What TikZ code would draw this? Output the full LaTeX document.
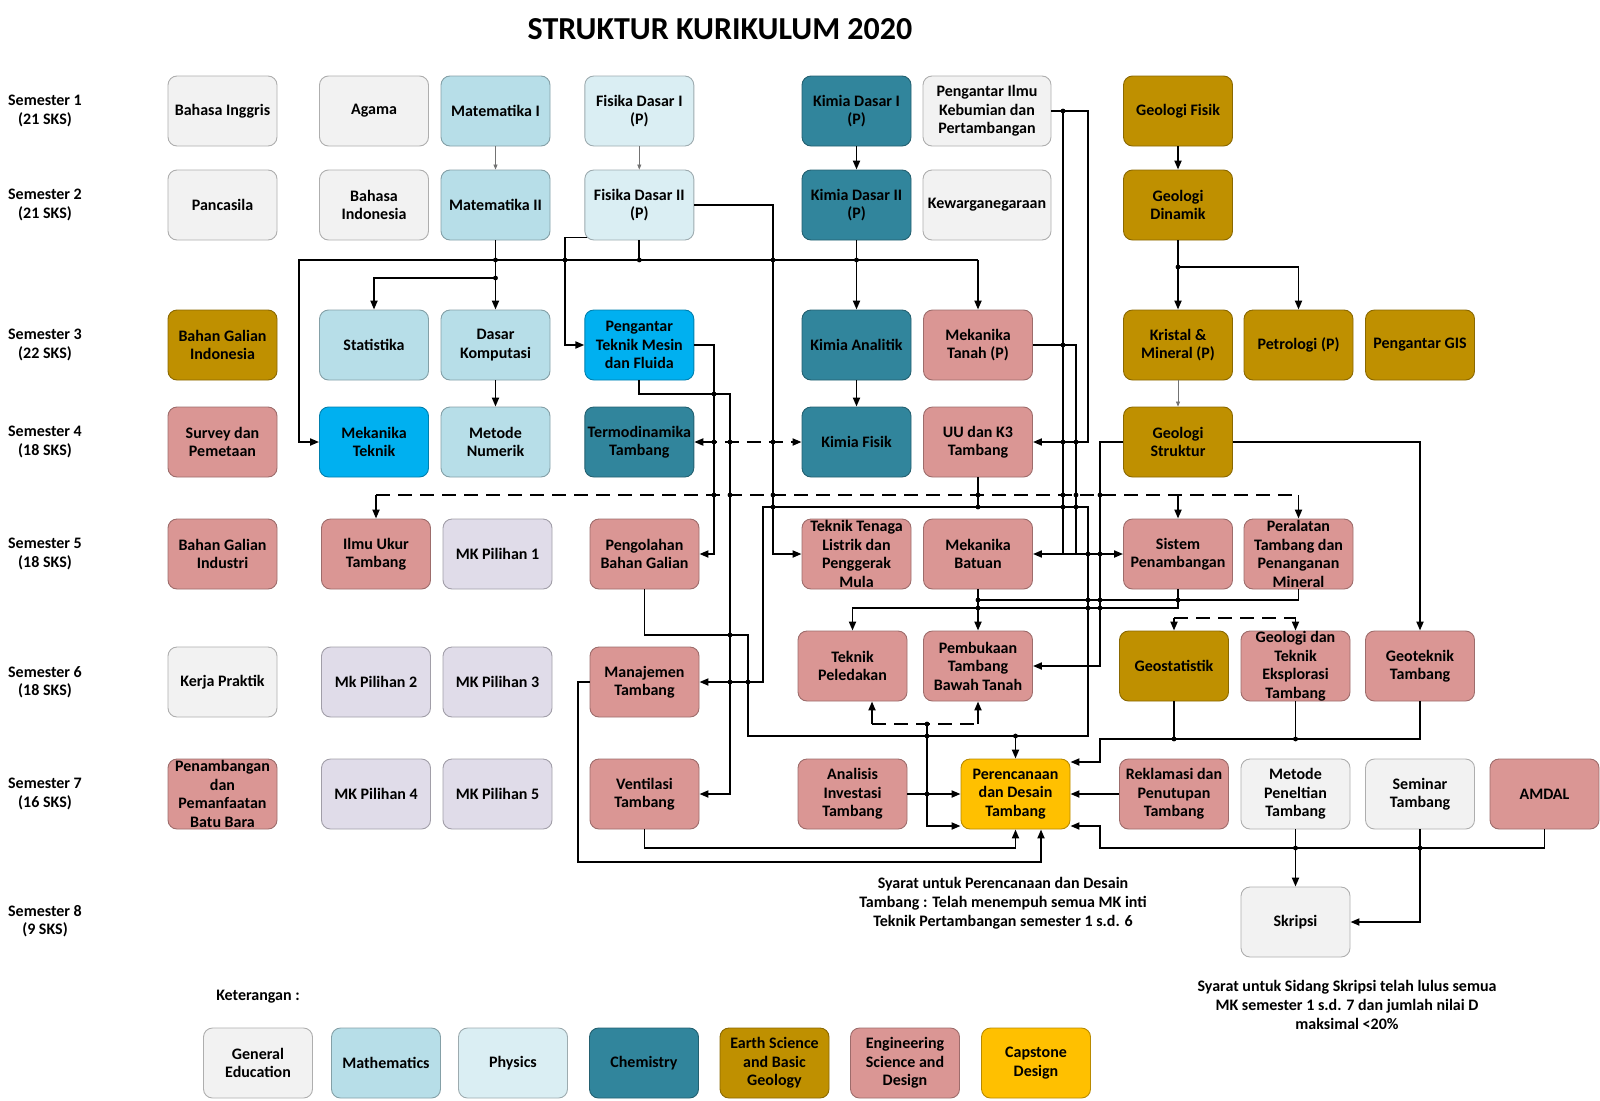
\documentclass[tikz,border=0pt]{standalone}
\usepackage{fontspec}
\setmainfont{Carlito}
\usetikzlibrary{arrows.meta}

\definecolor{gened}{HTML}{F2F2F2}
\definecolor{maths}{HTML}{B7DEE8}
\definecolor{physics}{HTML}{DAEEF3}
\definecolor{chem}{HTML}{31859C}
\definecolor{earth}{HTML}{BF9000}
\definecolor{engsci}{HTML}{DA9694}
\definecolor{capstone}{HTML}{FFC000}
\definecolor{mech}{HTML}{00B0F0}
\definecolor{elective}{HTML}{E0DCE9}

\newcommand{\coursefont}{\fontsize{16}{18.5}\selectfont\bfseries}
\newcommand{\notefont}{\fontsize{16}{19.2}\selectfont\bfseries}

\tikzset{
    course/.style={draw=#1!72!black, fill=#1, line width=0.9pt, rounded corners=9pt,
        minimum width=109pt, minimum height=70pt, inner xsep=1pt, inner ysep=0pt,
        align=center, font=\coursefont},
    semlabel/.style={align=center, font=\coursefont},
    wire/.style={line width=1.9pt},
    wirearr/.style={wire, -{Triangle[length=9pt,width=7pt]}},
    wiretwo/.style={wire, {Triangle[length=9pt,width=7pt]}-{Triangle[length=9pt,width=7pt]}},
    wiredash/.style={wire, dash pattern=on 14pt off 8pt},
    thinarr/.style={line width=0.7pt, black!55, -{Triangle[length=5pt,width=4pt]}},
}

\begin{document}
\begin{tikzpicture}[x=1pt,y=-1pt]
    \useasboundingbox (0,0) rectangle (1600,1100);

    \node[font=\fontsize{32}{38}\selectfont\bfseries] (title) at (720,29) {STRUKTUR KURIKULUM 2020};

    \foreach \n/\y/\k in {1/111/21,2/205/21,3/345/22,4/442/18,5/554/18,6/682/18,7/794/16,8/921/9}
        \node[semlabel] (sem\n) at (45,\y) {Semester \n\\(\k{} SKS)};

    % semester 1
    \node[course=gened] (bing) at (222.5,111) {Bahasa Inggris};
    \node[course=gened] (agama) at (374,111) {Agama};
    \node[course=maths] (mat1) at (495.5,111) {Matematika I};
    \node[course=physics] (fis1) at (639.3,111) {Fisika Dasar I\\(P)};
    \node[course=chem] (kim1) at (856.5,111) {Kimia Dasar I\\(P)};
    \node[course=gened, minimum width=128pt] (pik) at (987,111) {Pengantar Ilmu\\Kebumian dan\\Pertambangan};
    \node[course=earth] (gfis) at (1178,111) {Geologi Fisik};
    % semester 2
    \node[course=gened] (pancasila) at (222.5,205) {Pancasila};
    \node[course=gened] (bindo) at (374,205) {Bahasa\\Indonesia};
    \node[course=maths] (mat2) at (495.5,205) {Matematika II};
    \node[course=physics] (fis2) at (639.3,205) {Fisika Dasar II\\(P)};
    \node[course=chem] (kim2) at (856.5,205) {Kimia Dasar II\\(P)};
    \node[course=gened, minimum width=128pt] (kwn) at (987,205) {Kewarganegaraan};
    \node[course=earth] (gdin) at (1178,205) {Geologi\\Dinamik};
    % semester 3
    \node[course=earth] (bgi) at (222.5,345) {Bahan Galian\\Indonesia};
    \node[course=maths] (stat) at (374,345) {Statistika};
    \node[course=maths] (dkom) at (495.5,345) {Dasar\\Komputasi};
    \node[course=mech] (ptm) at (639.3,345) {Pengantar\\Teknik Mesin\\dan Fluida};
    \node[course=chem] (kana) at (856.5,345) {Kimia Analitik};
    \node[course=engsci] (mtanah) at (978,345) {Mekanika\\Tanah (P)};
    \node[course=earth] (kristal) at (1178,345) {Kristal \&\\Mineral (P)};
    \node[course=earth] (petro) at (1298.5,345) {Petrologi (P)};
    \node[course=earth] (gis) at (1420,345) {Pengantar GIS};
    % semester 4
    \node[course=engsci] (survey) at (222.5,442) {Survey dan\\Pemetaan};
    \node[course=mech] (mtek) at (374,442) {Mekanika\\Teknik};
    \node[course=maths] (metnum) at (495.5,442) {Metode\\Numerik};
    \node[course=chem] (termo) at (639.3,442) {Termodinamika\\Tambang};
    \node[course=chem] (kfis) at (856.5,442) {Kimia Fisik};
    \node[course=engsci] (uuk3) at (978,442) {UU dan K3\\Tambang};
    \node[course=earth] (gstruk) at (1178,442) {Geologi\\Struktur};
    % semester 5
    \node[course=engsci] (bgind) at (222.5,554) {Bahan Galian\\Industri};
    \node[course=engsci] (iut) at (376,554) {Ilmu Ukur\\Tambang};
    \node[course=elective] (mkp1) at (497.5,554) {MK Pilihan 1};
    \node[course=engsci] (pbg) at (644.5,554) {Pengolahan\\Bahan Galian};
    \node[course=engsci] (ttl) at (856.5,554) {Teknik Tenaga\\Listrik dan\\Penggerak\\Mula};
    \node[course=engsci] (mbatuan) at (978,554) {Mekanika\\Batuan};
    \node[course=engsci] (sispen) at (1178,554) {Sistem\\Penambangan};
    \node[course=engsci] (peralatan) at (1298.5,554) {Peralatan\\Tambang dan\\Penanganan\\Mineral};
    % semester 6
    \node[course=gened] (kp) at (222.5,682) {Kerja Praktik};
    \node[course=elective] (mkp2) at (376,682) {Mk Pilihan 2};
    \node[course=elective] (mkp3) at (497.5,682) {MK Pilihan 3};
    \node[course=engsci] (manaj) at (644.5,682) {Manajemen\\Tambang};
    \node[course=engsci] (tpeled) at (852.5,666) {Teknik\\Peledakan};
    \node[course=engsci] (pembukaan) at (978,666) {Pembukaan\\Tambang\\Bawah Tanah};
    \node[course=earth] (geostat) at (1174,666) {Geostatistik};
    \node[course=engsci] (gtek) at (1295.5,666) {Geologi dan\\Teknik\\Eksplorasi\\Tambang};
    \node[course=engsci] (geotek) at (1420,666) {Geoteknik\\Tambang};
    % semester 7
    \node[course=engsci] (pbb) at (222.5,794) {Penambangan\\dan\\Pemanfaatan\\Batu Bara};
    \node[course=elective] (mkp4) at (376,794) {MK Pilihan 4};
    \node[course=elective] (mkp5) at (497.5,794) {MK Pilihan 5};
    \node[course=engsci] (vent) at (644.5,794) {Ventilasi\\Tambang};
    \node[course=engsci] (analisis) at (852.5,794) {Analisis\\Investasi\\Tambang};
    \node[course=capstone] (pdt) at (1015.5,794) {Perencanaan\\dan Desain\\Tambang};
    \node[course=engsci] (reklamasi) at (1174,794) {Reklamasi dan\\Penutupan\\Tambang};
    \node[course=gened] (metpen) at (1295.5,794) {Metode\\Peneltian\\Tambang};
    \node[course=gened] (seminar) at (1420,794) {Seminar\\Tambang};
    \node[course=engsci] (amdal) at (1544.5,794) {AMDAL};
    % semester 8
    \node[course=gened] (skripsi) at (1295.5,922) {Skripsi};

    \node[font=\notefont, align=center] (pdtnote) at (1003,903)
        {Syarat untuk Perencanaan dan Desain\\Tambang : Telah menempuh semua MK inti\\Teknik Pertambangan semester 1 s.d. 6};
    \node[font=\notefont, align=center] (skrnote) at (1347,1005)
        {Syarat untuk Sidang Skripsi telah lulus semua\\MK semester 1 s.d. 7 dan jumlah nilai D\\maksimal <20\%};

    % legend
    \node[font=\coursefont] (ket) at (258,997) {Keterangan :};
    \node[course=gened] (lgen) at (258,1063) {General\\Education};
    \node[course=maths] (lmat) at (386,1063) {Mathematics};
    \node[course=physics] (lfis) at (513,1063) {Physics};
    \node[course=chem] (lkim) at (644,1063) {Chemistry};
    \node[course=earth] (lgeo) at (774.5,1063) {Earth Science\\and Basic\\Geology};
    \node[course=engsci] (leng) at (905,1063) {Engineering\\Science and\\Design};
    \node[course=capstone] (lcap) at (1036,1063) {Capstone\\Design};

    % bend points
    \coordinate (bus) at (0,260);
    \coordinate (statbus) at (0,278);
    \coordinate (ygd) at (0,267);
    \coordinate (xmtek) at (299,0);
    \coordinate (xptm) at (565,0);
    \coordinate (xttl) at (773,0);
    \coordinate (xpbg) at (714,0);
    \coordinate (xvent) at (730,0);
    \coordinate (yvent) at (0,394);
    \coordinate (xmanaj) at (763,0);
    \coordinate (yuu) at (0,507);
    \coordinate (xpdt) at (1088,0);
    \coordinate (ypdt) at (0,736);
    \coordinate (ypbg) at (0,635);
    \coordinate (xpbg2) at (748,0);
    \coordinate (xpik) at (1063,0);
    \coordinate (xmt) at (1076,0);
    \coordinate (xgs) at (1100,0);
    \coordinate (ydash) at (0,495);
    \coordinate (ysp) at (0,600);
    \coordinate (ypel) at (0,608);
    \coordinate (ygeo) at (0,618);
    \coordinate (ylow) at (0,724);
    \coordinate (xlow) at (872,0);
    \coordinate (xlow2) at (927,0);
    \coordinate (ylow2) at (0,826);
    \coordinate (ygt) at (0,739);
    \coordinate (ygt2) at (0,762);
    \coordinate (ybot) at (0,848);
    \coordinate (xman) at (578,0);
    \coordinate (yman) at (0,862);
    \coordinate (xman2) at (1041,0);
    \coordinate (f2sw) at ([shift={(3pt,3pt)}]fis2.south west);

    % semester 1 -> 2
    \draw[thinarr] (mat1) -- (mat2);
    \draw[thinarr] (fis1) -- (fis2);
    \draw[wirearr] (kim1) -- (kim2);
    \draw[wirearr] (gfis) -- (gdin);

    % bus under semester 2
    \draw[wire] (fis2.south) -- (fis2.south |- bus);
    \draw[wirearr] (mat2) -- (dkom);
    \draw[wirearr] (mat2.south |- statbus) -| (stat.north);
    \draw[wirearr] (kim2) -- (kana);
    \draw[wirearr] (mtanah.north |- bus) -- (mtanah.north);
    \draw[wirearr] (mtanah.north |- bus) -- (xmtek |- bus) |- (mtek.west);
    \draw[wirearr] (f2sw) -- (xptm |- f2sw) |- (ptm.west);
    \draw[wirearr] (fis2.east) -| (xttl |- ttl.west) -- (ttl.west);

    % geology
    \draw[wirearr] (gdin) -- (kristal);
    \draw[wirearr] (gdin.south |- ygd) -| (petro.north);
    \draw[thinarr] (kristal) -- (gstruk);
    \draw[wirearr] (dkom) -- (metnum);
    \draw[wirearr] (kana) -- (kfis);
    \draw[wiretwo, wiredash] (termo) -- (kfis);

    % pengantar teknik mesin
    \draw[wirearr] (ptm.east) -| (xpbg |- pbg.east) -- (pbg.east);
    \draw[wirearr] (ptm.south) -- (ptm.south |- yvent) -| (xvent |- vent.east) -- (vent.east);

    % uu dan k3, pengolahan
    \draw[wirearr] (uuk3.south) -- (uuk3.south |- yuu) -| (xmanaj |- manaj.east) -- (manaj.east);
    \draw[wirearr] (uuk3.south |- yuu) -| (xpdt |- ypdt) -| (pdt.north);
    \draw[wire] (pbg.south) -- (pbg.south |- ypbg) -| (xpbg2 |- ypdt) -- (xpdt |- ypdt);

    % pengantar ilmu kebumian, mekanika tanah
    \draw[wirearr] (pik.east) -| (xpdt |- uuk3.east) -- (uuk3.east);
    \draw[wire] (xpik |- pik.east) -- (xpik |- mbatuan.east);
    \draw[wire] (mtanah.east) -| (xmt |- mbatuan.east);
    \draw[wiretwo] (mbatuan.east) -- (sispen.west);

    % geologi struktur
    \draw[wirearr] (gstruk.west) -| (xgs |- pembukaan.east) -- (pembukaan.east);
    \draw[wirearr] (gstruk.east) -| (geotek.north);

    % dashed links semester 5
    \draw[wiredash] (iut.north |- ydash) -- (peralatan.north |- ydash);
    \draw[wirearr] (iut.north |- ydash) -- (iut.north);
    \draw[wirearr] (sispen.north |- ydash) -- (sispen.north);
    \draw[wirearr] (peralatan.north |- ydash) -- (peralatan.north);

    % semester 5 -> 6
    \draw[wirearr] (mbatuan) -- (pembukaan);
    \draw[wire] (mbatuan.south |- ysp) -| (peralatan.south);
    \draw[wirearr] (sispen.south) -- (sispen.south |- ypel) -| (tpeled.north);

    % dashed links semester 6
    \draw[wiredash] (geostat.north |- ygeo) -- (gtek.north |- ygeo);
    \draw[wirearr] (geostat.north |- ygeo) -- (geostat.north);
    \draw[wirearr] (gtek.north |- ygeo) -- (gtek.north);
    \draw[wiredash] (xlow |- ylow) -- (pembukaan.south |- ylow);
    \draw[wirearr] (xlow |- ylow) -- (xlow |- tpeled.south);
    \draw[wirearr] (pembukaan.south |- ylow) -- (pembukaan.south);
    \draw[wirearr] (xlow2 |- ylow) -- (xlow2 |- ylow2) -- (pdt.west |- ylow2);

    % into perencanaan dan desain
    \draw[wirearr] (analisis) -- (pdt);
    \draw[wirearr] (reklamasi) -- (pdt);
    \draw[wire] (geostat.south) -- (geostat.south |- ygt);
    \draw[wire] (gtek.south) -- (gtek.south |- ygt);
    \draw[wirearr] (geotek.south) |- (xgs |- ygt) -- (xgs |- ygt2) -- (pdt.east |- ygt2);
    \draw[wirearr] (amdal.south) |- (xgs |- ybot) -- (xgs |- ylow2) -- (pdt.east |- ylow2);
    \draw[wirearr] (vent.south) |- (pdt.south |- ybot) -- (pdt.south);
    \draw[wirearr] (manaj.west) -- (xman |- manaj.west) |- (xman2 |- yman) -- (xman2 |- pdt.south);

    % skripsi
    \draw[wirearr] (metpen) -- (skripsi);
    \draw[wirearr] (seminar.south) |- (skripsi.east);

    % junction dots
    \foreach \x/\y in {495.5/260, 565/260, 639.3/260, 773/260, 856.5/260, 495.5/278, 1063/111,
        1178/267, 1063/345, 714/394, 714/442, 730/442, 773/442, 1063/442, 1076/442, 714/495,
        730/495, 773/495, 978/495, 1063/495, 1076/495, 1100/495, 773/507, 978/507, 1063/507,
        1076/507, 1088/554, 1100/554, 978/600, 1088/600, 1100/600, 1178/600, 978/608,
        1088/608, 1100/608, 730/635, 730/682, 748/682, 927/724, 927/736, 1015.5/736,
        927/794, 1174/739, 1295.5/739, 1295.5/848, 1420/848}
        \fill (\x,\y) circle (2.4pt);
\end{tikzpicture}
\end{document}
